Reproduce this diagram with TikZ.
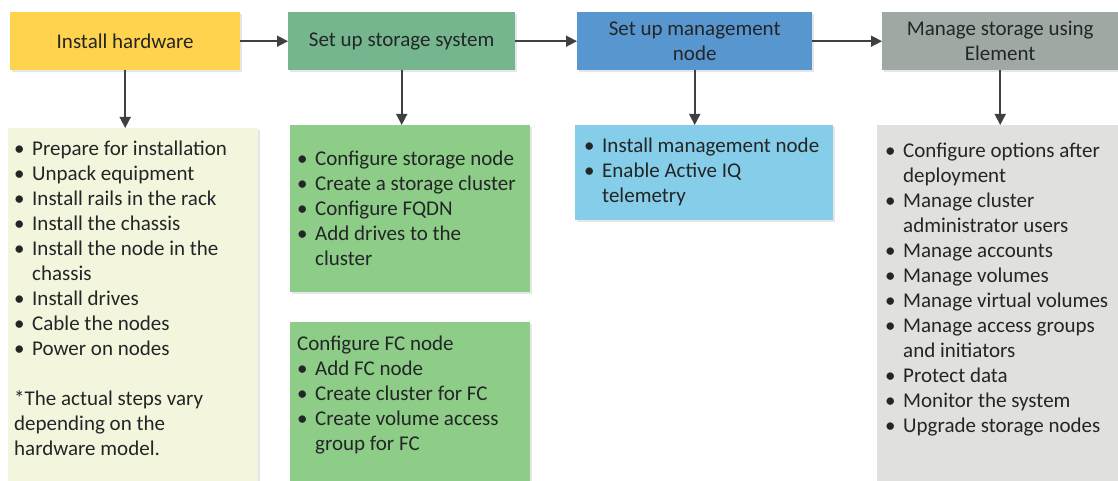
\documentclass[tikz,border=0pt]{standalone}
\usepackage{fontspec}
\setmainfont{Carlito}
\usepackage{tikz}
\usetikzlibrary{arrows.meta,shadows}

\definecolor{hwhead}{RGB}{255,211,78}
\definecolor{hwbody}{RGB}{243,245,221}
\definecolor{storhead}{RGB}{118,182,143}
\definecolor{storbody}{RGB}{141,205,135}
\definecolor{mgmthead}{RGB}{88,150,208}
\definecolor{mgmtbody}{RGB}{133,205,232}
\definecolor{elemhead}{RGB}{160,168,164}
\definecolor{elembody}{RGB}{224,225,221}
\definecolor{txt}{RGB}{35,38,38}
\definecolor{arr}{RGB}{64,64,64}

\newcommand{\itm}[1]{\makebox[18pt][l]{\textbullet}#1}
\newcommand{\ind}{\hspace*{18pt}}
\newcommand{\fst}{\rule{0pt}{16pt}}

\begin{document}
\begin{tikzpicture}[x=1pt, y=-1pt,
head_style/.style={rectangle, anchor=north west, inner sep=0pt, align=center, text=txt,
  font=\fontsize{21}{25}\selectfont, minimum height=58pt,
  drop shadow={opacity=0.2, shadow xshift=1.5pt, shadow yshift=-1.5pt}},
body_style/.style={rectangle, anchor=north west, inner sep=0pt,
  drop shadow={opacity=0.2, shadow xshift=1.5pt, shadow yshift=-1.5pt}},
list_style/.style={anchor=north west, inner sep=0pt, align=left, text=txt,
  font=\fontsize{21}{25}\selectfont},
arrow_style/.style={draw=arr, line width=1.6pt, -{Triangle[length=11pt,width=11pt]}}]

\useasboundingbox (0,0) rectangle (1118,481);

% headers
\node[head_style, fill=hwhead, minimum width=230pt] (hw) at (10,12) {Install hardware};
\node[head_style, fill=storhead, minimum width=227pt] (stor) at (288,12) {Set up storage system};
\node[head_style, fill=mgmthead, minimum width=235pt] (mgmt) at (577,12) {Set up management\\node};
\node[head_style, fill=elemhead, minimum width=236pt] (elem) at (882,12) {Manage storage using\\Element};

% boxes
\node[body_style, fill=hwbody, minimum width=250pt, minimum height=353pt] (hwbox) at (8,128) {};
\node[body_style, fill=storbody, minimum width=240pt, minimum height=167pt] (storbox) at (290,125) {};
\node[body_style, fill=storbody, minimum width=240pt, minimum height=159pt] (fcbox) at (290,322) {};
\node[body_style, fill=mgmtbody, minimum width=258pt, minimum height=95pt] (mgmtbox) at (575,125) {};
\node[body_style, fill=elembody, minimum width=241pt, minimum height=356pt] (elembox) at (877,125) {};

% lists
\node[list_style] (hwlist) at (14,139) {\fst\itm{Prepare for installation}\\
\itm{Unpack equipment}\\
\itm{Install rails in the rack}\\
\itm{Install the chassis}\\
\itm{Install the node in the}\\
\ind chassis\\
\itm{Install drives}\\
\itm{Cable the nodes}\\
\itm{Power on nodes}\\[25pt]
*The actual steps vary\\
depending on the\\
hardware model.};
\node[list_style] (storlist) at (297,149) {\fst\itm{Configure storage node}\\
\itm{Create a storage cluster}\\
\itm{Configure FQDN}\\
\itm{Add drives to the}\\
\ind cluster};
\node[list_style] (fclist) at (297,334) {\fst Configure FC node\\
\itm{Add FC node}\\
\itm{Create cluster for FC}\\
\itm{Create volume access}\\
\ind group for FC};
\node[list_style] (mgmtlist) at (584,136) {\fst\itm{Install management node}\\
\itm{Enable Active IQ}\\
\ind telemetry};
\node[list_style] (elemlist) at (885,141) {\fst\itm{Configure options after}\\
\ind deployment\\
\itm{Manage cluster}\\
\ind administrator users\\
\itm{Manage accounts}\\
\itm{Manage volumes}\\
\itm{Manage virtual volumes}\\
\itm{Manage access groups}\\
\ind and initiators\\
\itm{Protect data}\\
\itm{Monitor the system}\\
\itm{Upgrade storage nodes}};

% arrows
\draw[arrow_style] (hw) -- (stor);
\draw[arrow_style] (stor) -- (mgmt);
\draw[arrow_style] (mgmt) -- (elem);
\draw[arrow_style] (hw.south) -- (hw.south |- hwbox.north);
\draw[arrow_style] (stor.south) -- (stor.south |- storbox.north);
\draw[arrow_style] (mgmt.south) -- (mgmt.south |- mgmtbox.north);
\draw[arrow_style] (elem.south) -- (elem.south |- elembox.north);

\end{tikzpicture}
\end{document}
